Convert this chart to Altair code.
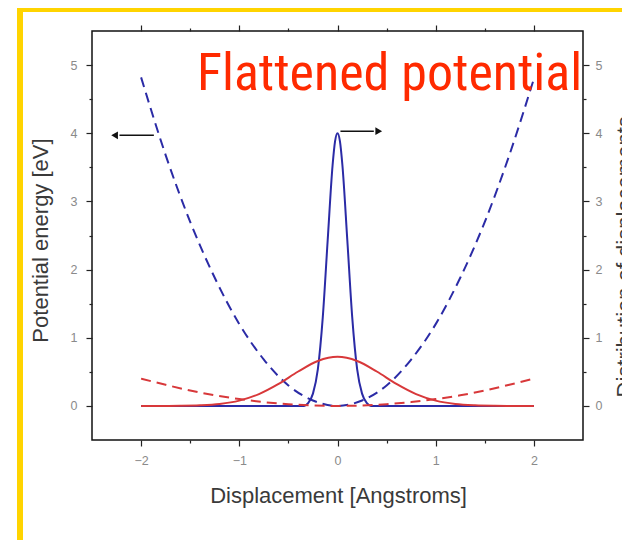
import altair as alt
import pandas as pd

# ---- data ----
# potential of the original (blue, dashed)
pot_x = [-2.0, -1.75, -1.5, -1.25, -1.0, -0.75, -0.5, -0.25, 0.0, 0.25, 0.5, 0.75, 1.0, 1.25, 1.5, 1.75, 2.0]
pot_y = [4.82, 3.68, 2.70, 1.88, 1.20, 0.68, 0.30, 0.08, 0.0, 0.08, 0.30, 0.68, 1.20, 1.88, 2.70, 3.68, 4.80]
# distribution of displacements, original (blue, solid)
dist_x = [-2.0, -0.34, -0.3, -0.25, -0.2, -0.15, -0.1, -0.05, -0.025, 0.0, 0.025, 0.05, 0.1, 0.15, 0.2, 0.25, 0.3, 0.34, 2.0]
dist_y = [0.0, 0.0, 0.04, 0.18, 0.54, 1.30, 2.43, 3.53, 3.88, 4.0, 3.88, 3.53, 2.43, 1.30, 0.54, 0.18, 0.04, 0.0, 0.0]
# flattened potential (red, dashed)
flat_x = [-2.0, -1.75, -1.5, -1.25, -1.0, -0.75, -0.5, -0.25, 0.0, 0.25, 0.5, 0.75, 1.0, 1.25, 1.5, 1.75, 2.0]
flat_y = [0.40, 0.31, 0.225, 0.156, 0.10, 0.056, 0.025, 0.006, 0.0, 0.006, 0.025, 0.056, 0.10, 0.156, 0.225, 0.31, 0.40]
# distribution with flattened potential (red, solid)
wide_x = [-2.0, -1.8, -1.6, -1.4, -1.2, -1.0, -0.8, -0.6, -0.4, -0.2, 0.0, 0.2, 0.4, 0.6, 0.8, 1.0, 1.2, 1.4, 1.6, 1.8, 2.0]
wide_y = [0.0, 0.0, 0.002, 0.009, 0.029, 0.078, 0.174, 0.323, 0.505, 0.659, 0.72, 0.659, 0.505, 0.323, 0.174, 0.078, 0.029, 0.009, 0.002, 0.0, 0.0]

# arrows (x start, x end, y)
arrow_x1 = [-1.87, 0.03]
arrow_x2 = [-2.22, 0.37]
arrow_tip = [-2.27, 0.42]
arrow_y = [3.97, 4.03]
arrow_shape = ["triangle-left", "triangle-right"]

title_text = ["Flattened potential"]
title_x = [0.53]
title_y = [4.64]

major_ticks = [-2, -1, 0, 1, 2]
major_yticks = [0, 1, 2, 3, 4, 5]
minor_xticks = [-1.5, -0.5, 0.5, 1.5]
minor_yticks = [0.5, 1.5, 2.5, 3.5, 4.5]

BLUE = "#2b2ba6"
RED = "#d8383a"
LBL = "#8a8a8a"
TTL = "#3a3a3a"
FONT = "Liberation Sans"

xs = alt.Scale(domain=[-2.5, 2.5], nice=False, zero=False)
ys = alt.Scale(domain=[-0.5, 5.5], nice=False, zero=False)

common = dict(domain=False, grid=False, tickColor="#222", tickWidth=1.2,
              labelColor=LBL, labelFont=FONT, labelFontSize=12.5,
              titleFont=FONT, titleColor=TTL, titleFontSize=22, titleFontWeight="normal")

ax_left = alt.Axis(orient="left", values=major_yticks, format="d", tickSize=6, labelPadding=9,
                   title="Potential energy [eV]", titleAngle=270, titleAlign="center",
                   titleBaseline="top", titleX=-62, titleY=209, **common)
ax_bottom = alt.Axis(orient="bottom", values=major_ticks, format="d", tickSize=6, labelPadding=8,
                     title="Displacement [Angstroms]", titleAlign="center", titleBaseline="top",
                     titleX=246, titleY=45, **common)
ax_right = alt.Axis(orient="right", values=major_yticks, format="d", tickSize=6, labelPadding=6,
                    title="Distribution of displacements", titleAngle=270, titleAlign="left",
                    titleBaseline="top", titleX=31, titleY=366, **common)
ax_top = alt.Axis(orient="top", values=major_ticks, tickSize=6, labels=False, title=None, **common)
ax_left_m = alt.Axis(orient="left", values=minor_yticks, tickSize=3, labels=False, title=None, **common)
ax_bottom_m = alt.Axis(orient="bottom", values=minor_xticks, tickSize=3, labels=False, title=None, **common)
ax_right_m = alt.Axis(orient="right", values=minor_yticks, tickSize=3, labels=False, title=None, **common)
ax_top_m = alt.Axis(orient="top", values=minor_xticks, tickSize=3, labels=False, title=None, **common)


def curve(xv, yv, color, dash, xaxis, yaxis):
    df = pd.DataFrame({"x": xv, "y": yv, "o": list(range(len(xv)))})
    kw = dict(color=color, strokeWidth=2, interpolate="monotone")
    if dash:
        kw["strokeDash"] = [10, 6]
    return alt.Chart(df).mark_line(**kw).encode(
        x=alt.X("x:Q", scale=xs, axis=xaxis),
        y=alt.Y("y:Q", scale=ys, axis=yaxis),
        order="o:Q",
    )


one = pd.DataFrame({"a": [0]})
yellow_left = alt.Chart(one).mark_rule(color="#ffd400", strokeWidth=6).encode(
    x=alt.value(-72), y=alt.value(-23), y2=alt.value(530))
yellow_top = alt.Chart(one).mark_rule(color="#ffd400", strokeWidth=4).encode(
    x=alt.value(-75), x2=alt.value(560), y=alt.value(-21))

blue_pot = curve(pot_x, pot_y, BLUE, True, ax_bottom, ax_left)
blue_dist = curve(dist_x, dist_y, BLUE, False, ax_top, ax_right)
red_dist = curve(wide_x, wide_y, RED, False, ax_bottom_m, ax_left_m)
red_pot = curve(flat_x, flat_y, RED, True, ax_top_m, ax_right_m)

arr = pd.DataFrame({"x1": arrow_x1, "x2": arrow_x2, "tip": arrow_tip, "y": arrow_y, "shape": arrow_shape})
arrow_lines = alt.Chart(arr).mark_rule(color="#111", strokeWidth=1.6).encode(
    x=alt.X("x1:Q", scale=xs, axis=None), x2="x2:Q", y=alt.Y("y:Q", scale=ys, axis=None))
arrow_heads = alt.Chart(arr).mark_point(filled=True, color="#111", size=60, opacity=1).encode(
    x=alt.X("tip:Q", scale=xs, axis=None), y=alt.Y("y:Q", scale=ys, axis=None),
    shape=alt.Shape("shape:N", scale=None))

ttl = pd.DataFrame({"t": title_text, "x": title_x, "y": title_y})
big_title = alt.Chart(ttl).mark_text(
    color="#ff2a00", font="Roboto Condensed, DejaVu Sans Condensed, Liberation Sans Narrow, Roboto",
    fontSize=52, align="center", baseline="alphabetic").encode(
    x=alt.X("x:Q", scale=xs, axis=None), y=alt.Y("y:Q", scale=ys, axis=None), text="t:N")

chart = alt.layer(
    blue_pot, blue_dist, red_dist, red_pot,
    yellow_left, yellow_top, arrow_lines, arrow_heads, big_title
).resolve_axis(x="independent", y="independent").properties(
    width=491, height=409,
    autosize=alt.AutoSizeParams(type="none"),
    padding={"left": 84, "top": 23, "right": 39, "bottom": 100},
    background="white",
).configure_view(stroke="#111", strokeWidth=1.5)

chart.save("out.html", embed_options={"renderer": "svg", "actions": False})
